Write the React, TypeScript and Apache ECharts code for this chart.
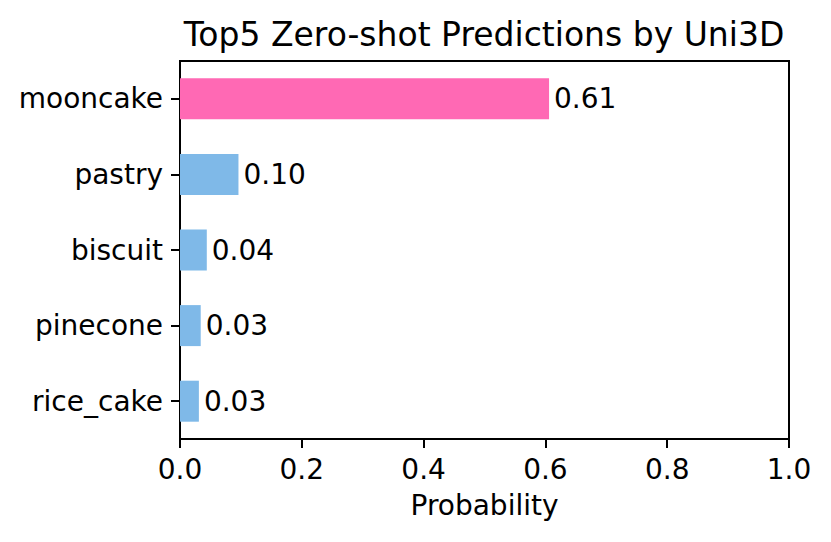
import React, { useEffect, useRef } from "react";
import * as echarts from "echarts";

const categories = ["mooncake", "pastry", "biscuit", "pinecone", "rice_cake"];
const probabilities = [0.606, 0.096, 0.044, 0.034, 0.031];
const barColors = ["#FF69B4", "#7FB9E8", "#7FB9E8", "#7FB9E8", "#7FB9E8"];
const xTicks = [0, 0.2, 0.4, 0.6, 0.8, 1.0];
const titleText = "Top5 Zero-shot Predictions by Uni3D";
const xAxisName = "Probability";

export default function App() {
  const ref = useRef<HTMLDivElement>(null);
  useEffect(() => {
    if (!ref.current) return;
    const chart = echarts.init(ref.current, null, { renderer: "svg" });
    const font = "DejaVu Sans";
    chart.setOption({
      animation: false,
      backgroundColor: "#ffffff",
      textStyle: { fontFamily: font },
      title: {
        text: titleText,
        left: 479,
        top: 13,
        textAlign: "center",
        textStyle: { fontFamily: font, fontSize: 33, fontWeight: "normal", color: "#000" },
      },
      grid: {
        left: 180,
        right: 42,
        top: 61,
        bottom: 103,
        show: true,
        borderColor: "#000",
        borderWidth: 2,
        containLabel: false,
      },
      xAxis: {
        type: "value",
        min: xTicks[0],
        max: xTicks[xTicks.length - 1],
        interval: 0.2,
        name: xAxisName,
        nameLocation: "middle",
        nameGap: 52,
        nameTextStyle: { fontFamily: font, fontSize: 28, color: "#000" },
        axisLine: { show: true, lineStyle: { color: "#000", width: 2 } },
        axisTick: { show: true, length: 9, lineStyle: { color: "#000", width: 2 } },
        axisLabel: {
          fontFamily: font,
          fontSize: 28,
          color: "#000",
          margin: 16,
          formatter: (v: number) => v.toFixed(1),
        },
        splitLine: { show: false },
      },
      yAxis: {
        type: "category",
        data: categories,
        inverse: true,
        axisLine: { show: true, lineStyle: { color: "#000", width: 2 } },
        axisTick: { show: true, alignWithLabel: true, length: 9, lineStyle: { color: "#000", width: 2 } },
        axisLabel: { fontFamily: font, fontSize: 28, color: "#000", margin: 17 },
        splitLine: { show: false },
      },
      series: [
        {
          type: "bar",
          barWidth: 41,
          data: probabilities.map((v, i) => ({ value: v, itemStyle: { color: barColors[i] } })),
          label: {
            show: true,
            position: "right",
            distance: 5,
            fontFamily: font,
            fontSize: 28,
            color: "#000",
            formatter: (p: any) => Number(p.value).toFixed(2),
          },
        },
      ],
    });
    return () => chart.dispose();
  }, []);
  return (
    <div
      ref={ref}
      style={{ position: "absolute", left: 0, top: 0, width: 831, height: 542 }}
    />
  );
}
